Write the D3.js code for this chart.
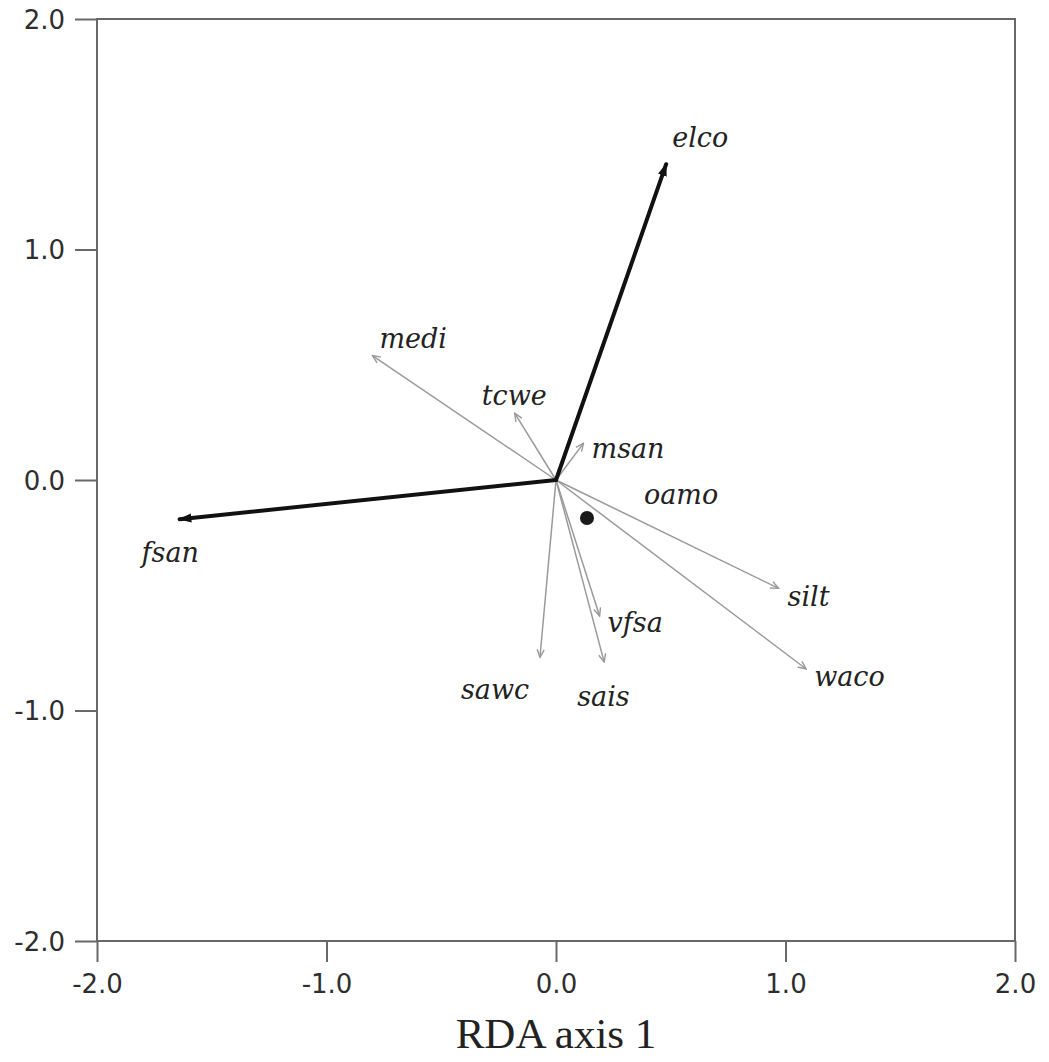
<!DOCTYPE html>
<html>
<head>
<meta charset="utf-8">
<script src="https://cdn.jsdelivr.net/npm/d3@7"></script>
<style>
  html, body { margin: 0; padding: 0; background: #ffffff; }
  svg { display: block; }
</style>
</head>
<body>
<svg id="chart" width="1049" height="1062"></svg>
<script>
// ---- data (RDA biplot scores) ----
const variables = ["elco", "fsan", "medi", "tcwe", "msan", "oamo", "silt", "waco", "vfsa", "sais", "sawc"];
const axis1Scores = [0.48, -1.64, -0.80, -0.18, 0.12, 0.0, 0.97, 1.09, 0.19, 0.21, -0.07];
const axis2Scores = [1.37, -0.17, 0.54, 0.29, 0.16, 0.0, -0.47, -0.82, -0.59, -0.79, -0.77];
const emphasized = ["elco", "fsan"];
const pointX = [0.135];
const pointY = [-0.165];
const tickValues = [-2, -1, 0, 1, 2];
const tickLabels = ["-2.0", "-1.0", "0.0", "1.0", "2.0"];
const xTitle = "RDA axis 1";

// ---- layout (label offsets in pixels relative to arrow tip) ----
const labelOffset = {
  elco: [6, -17], fsan: [-38, 43], medi: [7, -8], tcwe: [-33, -8], msan: [8, 15],
  oamo: [88, 24], silt: [9, 18], waco: [8, 17], vfsa: [8, 16], sais: [-27, 44], sawc: [-79, 42]
};

const svg = d3.select("#chart");
const x = d3.scaleLinear().domain([-2, 2]).range([97, 1015]);
const y = d3.scaleLinear().domain([-2, 2]).range([941, 19]);

const frameColor = "#686868";

// markers
const defs = svg.append("defs");
defs.append("marker").attr("id", "headThin")
  .attr("viewBox", "0 0 10 10").attr("refX", 9).attr("refY", 5)
  .attr("markerWidth", 10).attr("markerHeight", 10).attr("markerUnits", "userSpaceOnUse")
  .attr("orient", "auto")
  .append("path").attr("d", "M1,1.5 L9,5 L1,8.5").attr("fill", "none")
  .attr("stroke", "#9a9a9a").attr("stroke-width", 1.4);
defs.append("marker").attr("id", "headThick")
  .attr("viewBox", "0 0 10 10").attr("refX", 9).attr("refY", 5)
  .attr("markerWidth", 13).attr("markerHeight", 13).attr("markerUnits", "userSpaceOnUse")
  .attr("orient", "auto")
  .append("path").attr("d", "M0,1.5 L10,5 L0,8.5 Z").attr("fill", "#111");

// frame
svg.append("rect")
  .attr("x", x(-2)).attr("y", y(2))
  .attr("width", x(2) - x(-2)).attr("height", y(-2) - y(2))
  .attr("fill", "none").attr("stroke", frameColor).attr("stroke-width", 2);

// axes
const xAxis = d3.axisBottom(x).tickValues(tickValues)
  .tickFormat((d, i) => tickLabels[i]).tickSize(21).tickPadding(12);
const gx = svg.append("g").attr("transform", `translate(0,${y(-2)})`).call(xAxis);
gx.select(".domain").remove();

const yAxis = d3.axisLeft(y).tickValues(tickValues)
  .tickFormat((d, i) => tickLabels[i]).tickSize(22).tickPadding(10);
const gy = svg.append("g").attr("transform", `translate(${x(-2)},0)`).call(yAxis);
gy.select(".domain").remove();

[gx, gy].forEach(g => {
  g.selectAll(".tick line").attr("stroke", frameColor).attr("stroke-width", 2);
  g.selectAll(".tick text")
    .attr("fill", "#2e2e2e")
    .style("font-family", "'DejaVu Sans', sans-serif")
    .style("font-size", "26px");
});
gy.selectAll(".tick text").attr("dy", "0.36em");
gx.selectAll(".tick text").attr("dy", "0.72em");

// title
svg.append("text")
  .attr("x", x(0)).attr("y", 1048)
  .attr("text-anchor", "middle")
  .attr("fill", "#222")
  .style("font-family", "'Liberation Serif', 'Times New Roman', serif")
  .style("font-size", "43px")
  .text(xTitle);

// arrows
const rows = variables.map((v, i) => ({ name: v, a1: axis1Scores[i], a2: axis2Scores[i], bold: emphasized.includes(v) }));

svg.append("g").selectAll("line")
  .data(rows.filter(d => !d.bold && (d.a1 !== 0 || d.a2 !== 0)))
  .join("line")
  .attr("x1", x(0)).attr("y1", y(0))
  .attr("x2", d => x(d.a1)).attr("y2", d => y(d.a2))
  .attr("stroke", "#9a9a9a").attr("stroke-width", 1.5)
  .attr("marker-end", "url(#headThin)");

svg.append("g").selectAll("line")
  .data(rows.filter(d => d.bold))
  .join("line")
  .attr("x1", x(0)).attr("y1", y(0))
  .attr("x2", d => x(d.a1)).attr("y2", d => y(d.a2))
  .attr("stroke", "#111").attr("stroke-width", 4).attr("stroke-linecap", "round")
  .attr("marker-end", "url(#headThick)");

// point
svg.append("g").selectAll("circle")
  .data(pointX.map((v, i) => [v, pointY[i]]))
  .join("circle")
  .attr("cx", d => x(d[0])).attr("cy", d => y(d[1]))
  .attr("r", 7).attr("fill", "#1a1a1a");

// labels
svg.append("g").selectAll("text")
  .data(rows)
  .join("text")
  .attr("x", d => x(d.a1) + labelOffset[d.name][0])
  .attr("y", d => y(d.a2) + labelOffset[d.name][1])
  .attr("fill", "#222")
  .style("font-family", "'DejaVu Serif', serif")
  .style("font-style", "italic")
  .style("font-size", "27px")
  .text(d => d.name);
</script>
</body>
</html>
